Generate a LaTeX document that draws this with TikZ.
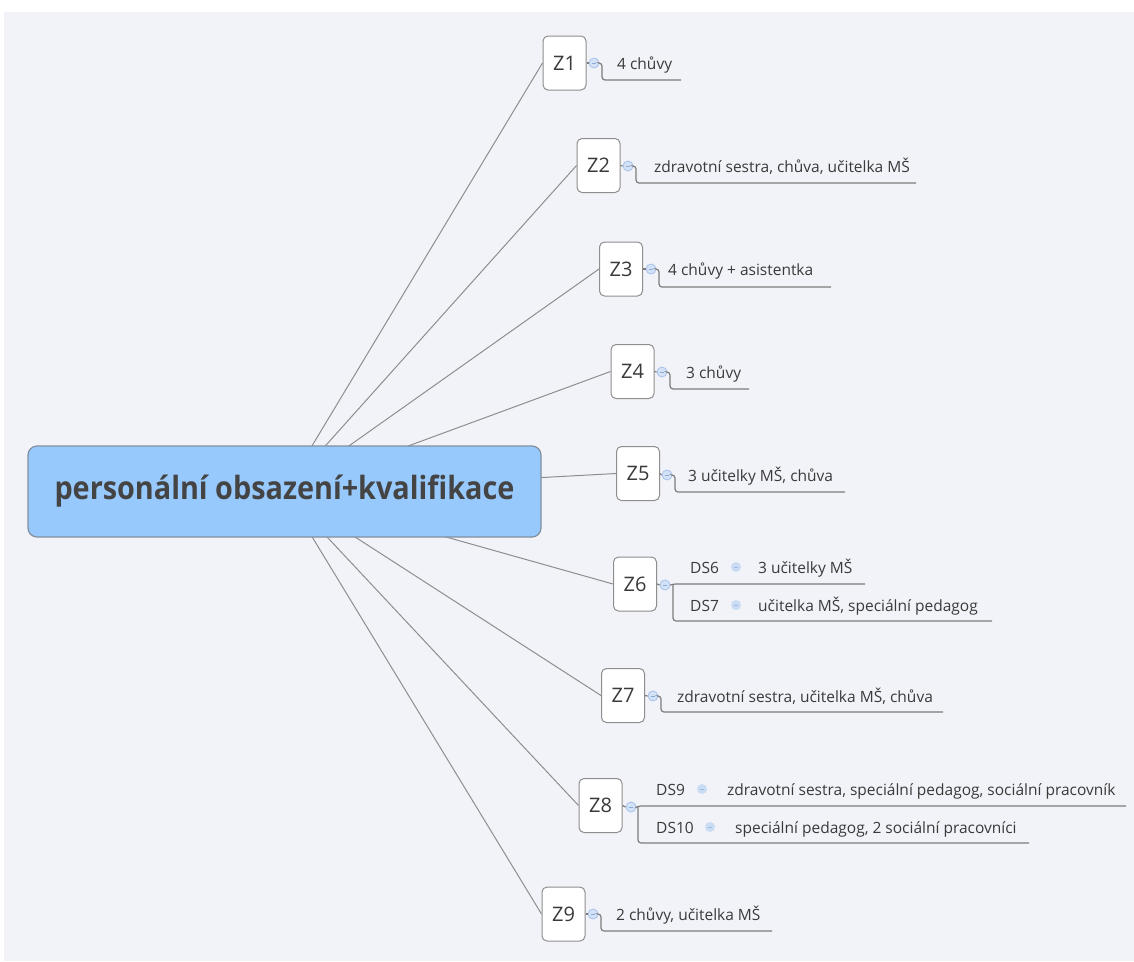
\documentclass[tikz,border=0pt]{standalone}
\usepackage{fontspec}
\setmainfont{Open Sans}
\newfontfamily\rootfont[FakeStretch=0.9]{Open Sans}
\usetikzlibrary{backgrounds}
\definecolor{bgc}{HTML}{F2F3F8}
\definecolor{rootfill}{HTML}{97C9FD}
\definecolor{rootdraw}{HTML}{8090A0}
\definecolor{txtc}{HTML}{3A3A3A}
\definecolor{spokec}{HTML}{8E8E8E}
\definecolor{underc}{HTML}{7C7C7C}
\definecolor{togfill}{HTML}{D3E2F7}
\definecolor{togdraw}{HTML}{A7C1EA}
\definecolor{togminus}{HTML}{8AAAD8}
\definecolor{dsfill}{HTML}{CADBF4}
\tikzset{
  root/.style={draw=rootdraw, line width=1.2pt, fill=rootfill, rounded corners=9pt,
    minimum width=513pt, minimum height=91pt, inner sep=0pt,
    font=\rootfont\bfseries\fontsize{32}{38}\selectfont, text=txtc!95!white},
  zbox/.style={draw=spokec, line width=1pt, fill=white, rounded corners=5pt,
    minimum width=43pt, minimum height=54pt, inner sep=0pt,
    font=\fontsize{20}{24}\selectfont, text=txtc},
  tog/.style={circle, draw=togdraw, line width=0.8pt, fill=togfill, minimum size=10pt, inner sep=0pt,
    path picture={\draw[togminus, line width=0.8pt]
      ([xshift=-2.3pt]path picture bounding box.center) -- ([xshift=2.3pt]path picture bounding box.center);}},
  dstog/.style={circle, fill=dsfill, minimum size=10pt, inner sep=0pt,
    path picture={\draw[togminus!80!white, line width=0.8pt]
      ([xshift=-2.3pt]path picture bounding box.center) -- ([xshift=2.3pt]path picture bounding box.center);}},
  txt/.style={anchor=base west, inner sep=0pt, font=\fontsize{15.5}{18}\selectfont, text=txtc},
  spoke/.style={draw=spokec, line width=1pt},
  under/.style={draw=underc, line width=1.2pt, rounded corners=3pt},
}
\begin{document}
\begin{tikzpicture}[x=1pt,y=-1pt]
\useasboundingbox (0,0) rectangle (1134,961);

\node[root] (root) at (284.5,491.5) {personální obsazení+kvalifikace};

% topic boxes
\node[zbox] (z1) at (564.5,63) {Z1};
\node[zbox] (z2) at (598.5,165.5) {Z2};
\node[zbox] (z3) at (621,269) {Z3};
\node[zbox] (z4) at (632.5,371.5) {Z4};
\node[zbox] (z5) at (638,473.5) {Z5};
\node[zbox] (z6) at (635,584) {Z6};
\node[zbox] (z7) at (623,695.5) {Z7};
\node[zbox] (z8) at (600.5,805.5) {Z8};
\node[zbox] (z9) at (563.5,914) {Z9};

% toggles
\node[tog] (t1) at (594,63) {};
\node[tog] (t2) at (628,166) {};
\node[tog] (t3) at (651,269) {};
\node[tog] (t4) at (662,372) {};
\node[tog] (t5) at (667,475) {};
\node[tog] (t6) at (665,585) {};
\node[tog] (t7) at (653,696) {};
\node[tog] (t8) at (631,807) {};
\node[tog] (t9) at (593,914) {};

% bracket corners and underline ends
\coordinate (b1) at (602,63);  \coordinate (e1) at (681,80);
\coordinate (b2) at (636,166); \coordinate (e2) at (916,183);
\coordinate (b3) at (659,269); \coordinate (e3) at (831,287);
\coordinate (b4) at (670,372); \coordinate (e4) at (749,389);
\coordinate (b5) at (675,475); \coordinate (e5) at (845,492);
\coordinate (b6) at (673,584); \coordinate (e6a) at (865,584); \coordinate (e6b) at (992,621);
\coordinate (b7) at (661,696); \coordinate (e7) at (943,712);
\coordinate (b8) at (638,806); \coordinate (e8a) at (1126,806); \coordinate (e8b) at (1029,843);
\coordinate (b9) at (601,914); \coordinate (e9) at (772,931);

% texts
\node[txt] (l1) at (617,69) {4 chůvy};
\node[txt] (l2) at (654,172) {zdravotní sestra, chůva, učitelka MŠ};
\node[txt] (l3) at (668,275) {4 chůvy + asistentka};
\node[txt] (l4) at (686,378) {3 chůvy};
\node[txt] (l5) at (688,481) {3 učitelky MŠ, chůva};
\node[txt] (ds6) at (690,573) {DS6};
\node[dstog] (d6) at (736,567) {};
\node[txt] (l6a) at (758,573) {3 učitelky MŠ};
\node[txt] (ds7) at (690,611) {DS7};
\node[dstog] (d7) at (736,605) {};
\node[txt] (l6b) at (758,611) {učitelka MŠ, speciální pedagog};
\node[txt] (l7) at (677,702) {zdravotní sestra, učitelka MŠ, chůva};
\node[txt] (ds9) at (656,795) {DS9};
\node[dstog] (d9) at (702,789) {};
\node[txt] (l8a) at (727,795) {zdravotní sestra, speciální pedagog, sociální pracovník};
\node[txt] (ds10) at (656,833) {DS10};
\node[dstog] (d10) at (710,827) {};
\node[txt] (l8b) at (735,833) {speciální pedagog, 2 sociální pracovníci};
\node[txt] (l9) at (616,920) {2 chůvy, učitelka MŠ};

% connectors
\draw[under] (z1.east) -- (t1.west);
\draw[under] (z2.east) -- (t2.west);
\draw[under] (z3.east) -- (t3.west);
\draw[under] (z4.east) -- (t4.west);
\draw[under] (z5.east) -- (t5.west);
\draw[under] (z6.east) -- (t6.west);
\draw[under] (z7.east) -- (t7.west);
\draw[under] (z8.east) -- (t8.west);
\draw[under] (z9.east) -- (t9.west);

\draw[under] (t1.east) -- (b1) |- (e1);
\draw[under] (t2.east) -- (b2) |- (e2);
\draw[under] (t3.east) -- (b3) |- (e3);
\draw[under] (t4.east) -- (b4) |- (e4);
\draw[under] (t5.east) -- (b5) |- (e5);
\draw[under] (t6.east) -- (b6) -- (e6a);
\draw[under] (b6) |- (e6b);
\draw[under] (t7.east) -- (b7) |- (e7);
\draw[under] (t8.east) -- (b8) -- (e8a);
\draw[under] (b8) |- (e8b);
\draw[under] (t9.east) -- (b9) |- (e9);

\begin{pgfonlayer}{background}
  \fill[bgc] (4,12) rectangle (1134,961);
  \foreach \z in {z1,z2,z3,z4,z5,z6,z7,z8,z9}
    \draw[spoke] (root.center) -- (\z.west);
\end{pgfonlayer}
\end{tikzpicture}
\end{document}
